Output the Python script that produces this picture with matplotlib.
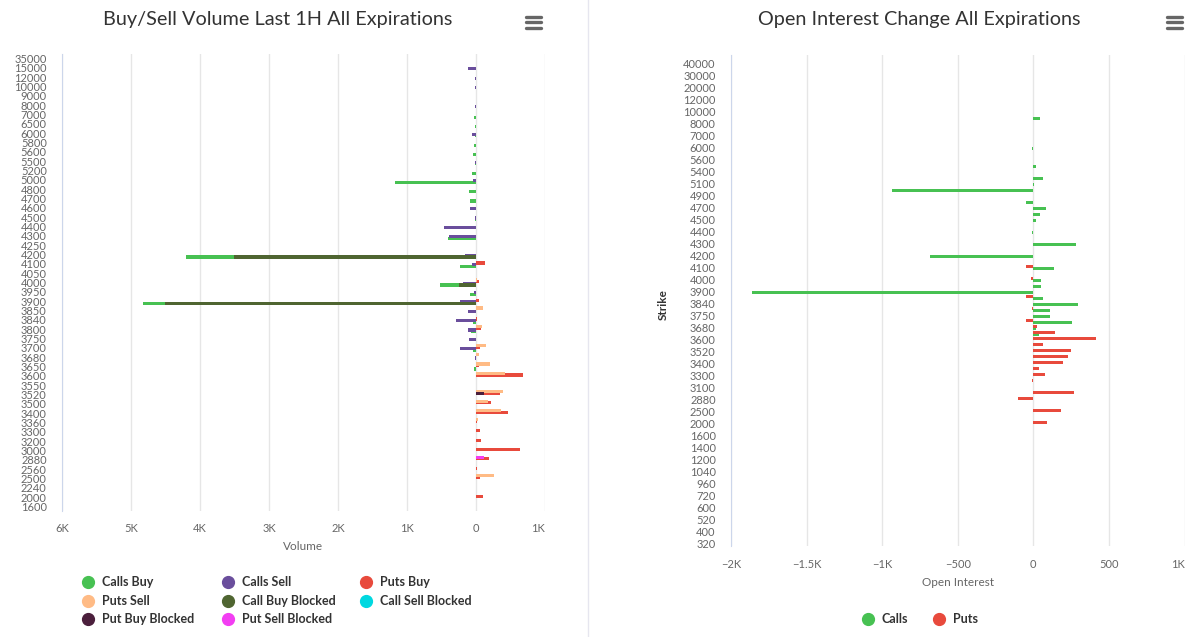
import numpy as np
import matplotlib.pyplot as plt

plt.rcParams['font.family'] = ['Lato', 'DejaVu Sans']

# ---- left chart: buy/sell volume last 1h (strikes top -> bottom)
vol_strikes = [35000, 15000, 12000, 10000, 9000, 8000, 7000, 6500, 6000, 5800, 5600, 5500,
               5200, 5000, 4800, 4700, 4600, 4500, 4400, 4300, 4250, 4200, 4100, 4050, 4000,
               3950, 3900, 3850, 3840, 3800, 3750, 3700, 3680, 3650, 3600, 3550, 3520, 3500,
               3400, 3360, 3300, 3200, 3000, 2880, 2560, 2500, 2240, 2000, 1600]

calls_buy_k = [7000, 6500, 6000, 5800, 5600, 5500, 5200, 5000, 4800, 4700, 4500, 4300, 4200,
               4100, 4000, 3950, 3900, 3840, 3800, 3700, 3650]
calls_buy_v = [-30, -15, -10, -25, -45, -10, -58, -1170, -106, -92, -10, -400, -697,
               -232, -266, -92, -323, -39, -72, -39, -34]

calls_sell_k = [15000, 12000, 10000, 8000, 6000, 5500, 5000, 4600, 4500, 4400, 4300, 4200,
                4100, 4000, 3950, 3900, 3850, 3840, 3800, 3750, 3700, 3680]
calls_sell_v = [-116, -20, -20, -20, -58, -15, -45, -92, -20, -469, -387, -160,
                -58, -190, -34, -227, -116, -290, -116, -101, -232, -19]

puts_buy_k = [4100, 4000, 3900, 3840, 3800, 3700, 3650, 3600, 3520, 3500, 3400, 3360, 3300,
              3200, 3000, 2880, 2560, 2500, 2000]
puts_buy_v = [135, 48, 48, 15, 72, 58, 39, 686, 232, 213, 464, 15, 53, 68, 638, 184, 10, 58, 97]

puts_sell_k = [4000, 3850, 3800, 3700, 3680, 3650, 3600, 3520, 3500, 3400, 3360, 2500]
puts_sell_v = [15, 100, 82, 145, 43, 203, 425, 387, 169, 362, 24, 261]

call_buy_blk_k = [4200, 4000, 3900]
call_buy_blk_v = [-3503, -251, -4507]
call_sell_blk_k = []
call_sell_blk_v = []
put_buy_blk_k = [3520]
put_buy_blk_v = [116]
put_sell_blk_k = [2880]
put_sell_blk_v = [116]

# ---- right chart: open interest change (every other strike label is hidden)
oi_strikes = [45000, 40000, 35000, 30000, 25000, 20000, 15000, 12000, 11000, 10000, 9000, 8000,
              7500, 7000, 6500, 6000, 5800, 5600, 5500, 5400, 5200, 5100, 5000, 4900, 4800,
              4700, 4600, 4500, 4450, 4400, 4350, 4300, 4250, 4200, 4150, 4100, 4050, 4000,
              3950, 3900, 3850, 3840, 3800, 3750, 3700, 3680, 3650, 3600, 3550, 3520, 3500,
              3400, 3360, 3300, 3200, 3100, 3000, 2880, 2560, 2500, 2240, 2000, 1800, 1600,
              1500, 1400, 1300, 1200, 1100, 1040, 1000, 960, 800, 720, 640, 600, 560, 520,
              480, 400, 360, 320]

oi_calls_k = [9000, 6000, 5500, 5200, 5100, 5000, 4800, 4700, 4600, 4500, 4400, 4300, 4200,
              4100, 4000, 3950, 3900, 3850, 3840, 3800, 3750, 3700, 3680, 3650]
oi_calls_v = [42, -9, 20, 62, 7, -932, -51, 82, 42, 15, -9, 282, -683,
              134, 49, 49, -1858, 62, 296, 108, 108, 256, 15, 35]

oi_puts_k = [4100, 4000, 3850, 3800, 3700, 3680, 3650, 3600, 3550, 3520, 3500, 3400, 3360,
             3300, 3200, 3000, 2880, 2500, 2000]
oi_puts_v = [-51, -18, -51, -7, -51, 26, 143, 417, 62, 249, 229, 196, 35,
             75, -7, 269, -104, 183, 88]

vol_names = ['Calls Buy', 'Calls Sell', 'Puts Buy', 'Puts Sell', 'Call Buy Blocked',
             'Call Sell Blocked', 'Put Buy Blocked', 'Put Sell Blocked']
vol_colors = ['#47c152', '#6a4e9c', '#e84a3c', '#ffbb85', '#4f6531',
              '#00d8e0', '#4b1f3c', '#f23ef2']
oi_names = ['Calls', 'Puts']
oi_colors = ['#47c152', '#e84a3c']


def spread(strikes, keys, vals):
    out = np.zeros(len(strikes))
    for k, v in zip(keys, vals):
        out[strikes.index(k)] = v
    return out


W, H = 1200, 637
fig = plt.figure(figsize=(12, 6.37), dpi=100)

grid_c = '#e6e6e6'
label_c = '#666666'

# ---------------- left chart
ax = fig.add_axes([62 / W, 1 - 511 / H, (545 - 62) / W, (511 - 54) / H])
y = np.arange(len(vol_strikes))

cb = spread(vol_strikes, calls_buy_k, calls_buy_v)
cs = spread(vol_strikes, calls_sell_k, calls_sell_v)
pb = spread(vol_strikes, puts_buy_k, puts_buy_v)
ps = spread(vol_strikes, puts_sell_k, puts_sell_v)
cbb = spread(vol_strikes, call_buy_blk_k, call_buy_blk_v)
csb = spread(vol_strikes, call_sell_blk_k, call_sell_blk_v)
pbb = spread(vol_strikes, put_buy_blk_k, put_buy_blk_v)
psb = spread(vol_strikes, put_sell_blk_k, put_sell_blk_v)

h = 0.34
# stack groups: blocked at the base, normal on top; groups offset top->bottom
ax.barh(y + 0.27, cb, left=cbb, height=h, color=vol_colors[0], zorder=2)
ax.barh(y + 0.09, cs, left=csb, height=h, color=vol_colors[1], zorder=3)
ax.barh(y - 0.09, pb, left=pbb, height=h, color=vol_colors[2], zorder=4)
ax.barh(y - 0.27, ps, left=psb, height=h, color=vol_colors[3], zorder=5)
ax.barh(y + 0.27, cbb, height=h, color=vol_colors[4], zorder=6)
ax.barh(y + 0.09, csb, height=h, color=vol_colors[5], zorder=6)
ax.barh(y - 0.09, pbb, height=h, color=vol_colors[6], zorder=6)
ax.barh(y - 0.27, psb, height=h, color=vol_colors[7], zorder=6)

ax.set_ylim(len(vol_strikes) - 0.5, -0.5)
ax.set_yticks(y)
ax.set_yticklabels([str(s) for s in vol_strikes])
ax.set_xlim(-6000, 1000)
xt = np.arange(-6000, 1001, 1000)
ax.set_xticks(xt)
ax.set_xticklabels([('%dK' % (abs(v) // 1000)) if v != 0 else '0' for v in xt])

# ---------------- right chart
ax2 = fig.add_axes([731 / W, 1 - 546 / H, (1184.5 - 731) / W, (546 - 55) / H])
y2 = np.arange(len(oi_strikes))
oc = spread(oi_strikes, oi_calls_k, oi_calls_v)
op = spread(oi_strikes, oi_puts_k, oi_puts_v)
ax2.barh(y2 + 0.17, oc, height=0.48, color=oi_colors[0], zorder=2)
ax2.barh(y2 - 0.17, op, height=0.48, color=oi_colors[1], zorder=3)
ax2.set_ylim(len(oi_strikes) - 0.5, -0.5)
ax2.set_yticks(y2[1::2])
ax2.set_yticklabels([str(s) for s in oi_strikes[1::2]])
ax2.set_xlim(-2000, 1000)
ax2.set_xticks([-2000, -1500, -1000, -500, 0, 500, 1000])
ax2.set_xticklabels(['\u22122K', '\u22121.5K', '\u22121K', '\u2212500', '0', '500', '1K'])

for a in (ax, ax2):
    for s in ('top', 'right', 'bottom'):
        a.spines[s].set_visible(False)
    a.spines['left'].set_color('#ccd6eb')
    a.grid(axis='x', color=grid_c, lw=1, zorder=0)
    a.set_axisbelow(True)
    a.tick_params(axis='y', length=0, pad=11, labelsize=8, labelcolor=label_c)
    a.tick_params(axis='x', length=0, pad=9, labelsize=8, labelcolor=label_c)
    a.patch.set_alpha(0)
    # last value label is pulled inside the chart, as in the original
    lab = a.get_xticklabels()[-1]
    lab.set_horizontalalignment('right')

# ---------------- overlay: titles, legends, menus, divider
ov = fig.add_axes([0, 0, 1, 1], zorder=-1)
ov.set_xlim(0, W)
ov.set_ylim(H, 0)
ov.axis('off')

ov.plot([588, 588], [0, H], color='#e6e6ef', lw=1)
ov.text(278, 19, 'Buy/Sell Volume Last 1H All Expirations', ha='center', va='center',
        fontsize=14.3, color='#333333')
ov.text(919, 19, 'Open Interest Change All Expirations', ha='center', va='center',
        fontsize=14.3, color='#333333')
for mx in (525, 1166):
    for my in (16.5, 22, 27.5):
        ov.plot([mx + 1, mx + 16], [my, my], color='#666666', lw=2.4, solid_capstyle='round')

ov.text(303, 546, 'Volume', ha='center', va='center', fontsize=8.5, color=label_c)
ov.text(958, 582, 'Open Interest', ha='center', va='center', fontsize=8.5, color=label_c)
ov.text(663, 305, 'Strike', ha='center', va='center', rotation=90, fontsize=8.5,
        color='#333333', fontweight='bold')

leg_x = [88, 228, 366]
leg_y = [582, 601, 619]
for i, (nm, c) in enumerate(zip(vol_names, vol_colors)):
    lx, ly = leg_x[i % 3], leg_y[i // 3]
    ov.plot(lx, ly, 'o', color=c, ms=8.5)
    ov.text(lx + 14, ly, nm, ha='left', va='center', fontsize=9, fontweight='bold',
            color='#333333')
for nm, c, lx in zip(oi_names, oi_colors, [868, 939]):
    ov.plot(lx, 619, 'o', color=c, ms=8.5)
    ov.text(lx + 14, 619, nm, ha='left', va='center', fontsize=9, fontweight='bold',
            color='#333333')

fig.savefig('out.png', dpi=100)
